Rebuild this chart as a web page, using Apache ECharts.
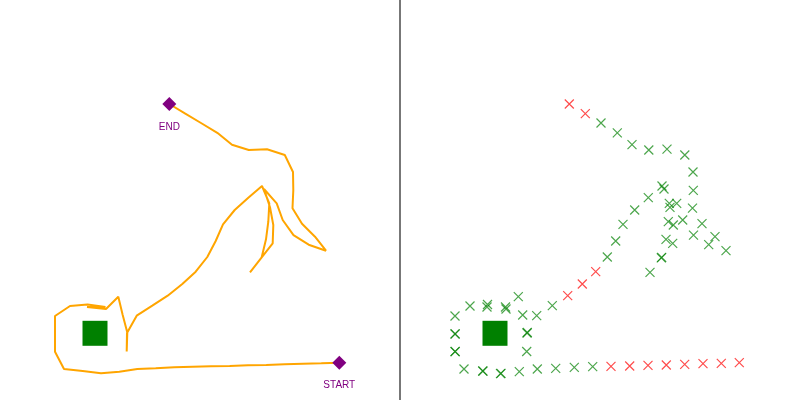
<!DOCTYPE html>
<html>
<head>
<meta charset="utf-8">
<script src="https://cdn.jsdelivr.net/npm/echarts@6/dist/echarts.min.js"></script>
<style>html,body{margin:0;padding:0;background:#fff}#c{width:800px;height:400px}</style>
</head>
<body>
<div id="c"></div>
<script>
// Track positions (x, y) in plot units, in travel order from START to END
var trackX = [33.93,32.13,30.30,28.47,26.63,24.80,22.97,21.10,19.27,17.43,15.57,13.73,11.93,10.10,10.05,8.27,8.30,6.40,5.50,5.52,5.50,5.52,5.50,7.00,8.75,10.55,8.70,10.60,11.83,12.27,12.73,12.67,12.70,13.67,15.23,16.77,18.23,19.57,20.73,21.57,22.30,23.47,24.83,26.20,26.93,26.83,26.60,26.17,25.00,26.13,27.27,27.33,27.00,26.40,27.67,28.27,29.35,30.87,32.60,31.50,30.20,29.25,29.33,29.30,28.48,26.70,24.88,23.20,21.73,20.10,18.53,16.93];
var trackY = [3.73,3.67,3.63,3.57,3.50,3.47,3.40,3.37,3.33,3.27,3.17,3.10,2.83,2.67,2.64,2.90,2.88,3.10,4.83,4.85,6.60,6.62,8.40,9.40,9.55,9.30,9.30,9.10,10.33,8.50,6.75,4.85,6.70,8.43,9.43,10.43,11.60,12.83,14.30,15.90,17.57,19.00,20.23,21.40,19.67,17.83,16.07,14.27,12.77,14.22,15.67,17.50,19.27,21.10,19.67,18.00,16.48,15.53,14.93,16.33,17.63,19.18,20.97,22.80,24.50,25.08,25.00,25.53,26.72,27.70,28.63,29.60];
// 1 = flagged (red) point, 0 = normal (green) point
var flagged = [1,1,1,1,1,1,1,1,0,0,0,0,0,0,0,0,0,0,0,0,0,0,0,0,0,0,0,0,0,0,0,0,0,0,0,1,1,1,0,0,0,0,0,0,0,0,0,0,0,0,0,0,0,0,0,0,0,0,0,0,0,0,0,0,0,0,0,0,0,0,1,1];
var endLabels = ['START', 'END'];
var homeX = [9.5];
var homeY = [6.67];

var linePts = trackX.map(function (x, i) { return [x, trackY[i]]; });
var greenPts = [], redPts = [];
linePts.forEach(function (p, i) { (flagged[i] ? redPts : greenPts).push(p); });
var endPts = [
  { value: linePts[0], name: endLabels[0] },
  { value: linePts[linePts.length - 1], name: endLabels[1] }
];
var homePts = homeX.map(function (x, i) { return [x, homeY[i]]; });

function ax(idx) {
  return { type: 'value', gridIndex: idx, min: 0, max: 40, show: false };
}
var crossSym = 'path://M0,0L10,10M10,0L0,10';

var chart = echarts.init(document.getElementById('c'), null, { renderer: 'canvas' });
chart.setOption({
  animation: false,
  backgroundColor: '#ffffff',
  grid: [
    { left: 0, top: 0, width: 400, height: 400 },
    { left: 400, top: 0, width: 400, height: 400 }
  ],
  xAxis: [ax(0), ax(1)],
  yAxis: [ax(0), ax(1)],
  graphic: [{
    type: 'line', shape: { x1: 400, y1: 0, x2: 400, y2: 400 },
    style: { stroke: '#777777', lineWidth: 2 }, z: 100
  }],
  series: [
    {
      type: 'scatter', xAxisIndex: 0, yAxisIndex: 0, data: homePts,
      symbol: 'rect', symbolSize: 25, itemStyle: { color: '#008000', opacity: 1 }, z: 1
    },
    {
      type: 'line', xAxisIndex: 0, yAxisIndex: 0, data: linePts,
      showSymbol: false, symbol: 'none',
      lineStyle: { color: '#FFA500', width: 2, opacity: 1 }, z: 2
    },
    {
      type: 'scatter', xAxisIndex: 0, yAxisIndex: 0, data: endPts,
      symbol: 'diamond', symbolSize: 14, itemStyle: { color: '#800080', opacity: 1 },
      label: { show: true, position: 'bottom', distance: 11, formatter: '{b}',
        color: '#800080', fontSize: 10, fontFamily: 'Liberation Sans, Arial, sans-serif' },
      z: 3
    },
    {
      type: 'scatter', xAxisIndex: 1, yAxisIndex: 1, data: homePts,
      symbol: 'rect', symbolSize: 25, itemStyle: { color: '#008000', opacity: 1 }, z: 1
    },
    {
      type: 'scatter', xAxisIndex: 1, yAxisIndex: 1, data: greenPts,
      symbol: crossSym, symbolSize: 9,
      itemStyle: { color: 'rgba(0,0,0,0)', borderColor: 'rgba(0,128,0,0.7)', borderWidth: 1.2, opacity: 1 }, z: 2
    },
    {
      type: 'scatter', xAxisIndex: 1, yAxisIndex: 1, data: redPts,
      symbol: crossSym, symbolSize: 9,
      itemStyle: { color: 'rgba(0,0,0,0)', borderColor: 'rgba(255,0,0,0.7)', borderWidth: 1.2, opacity: 1 }, z: 2
    }
  ]
});
</script>
</body>
</html>
